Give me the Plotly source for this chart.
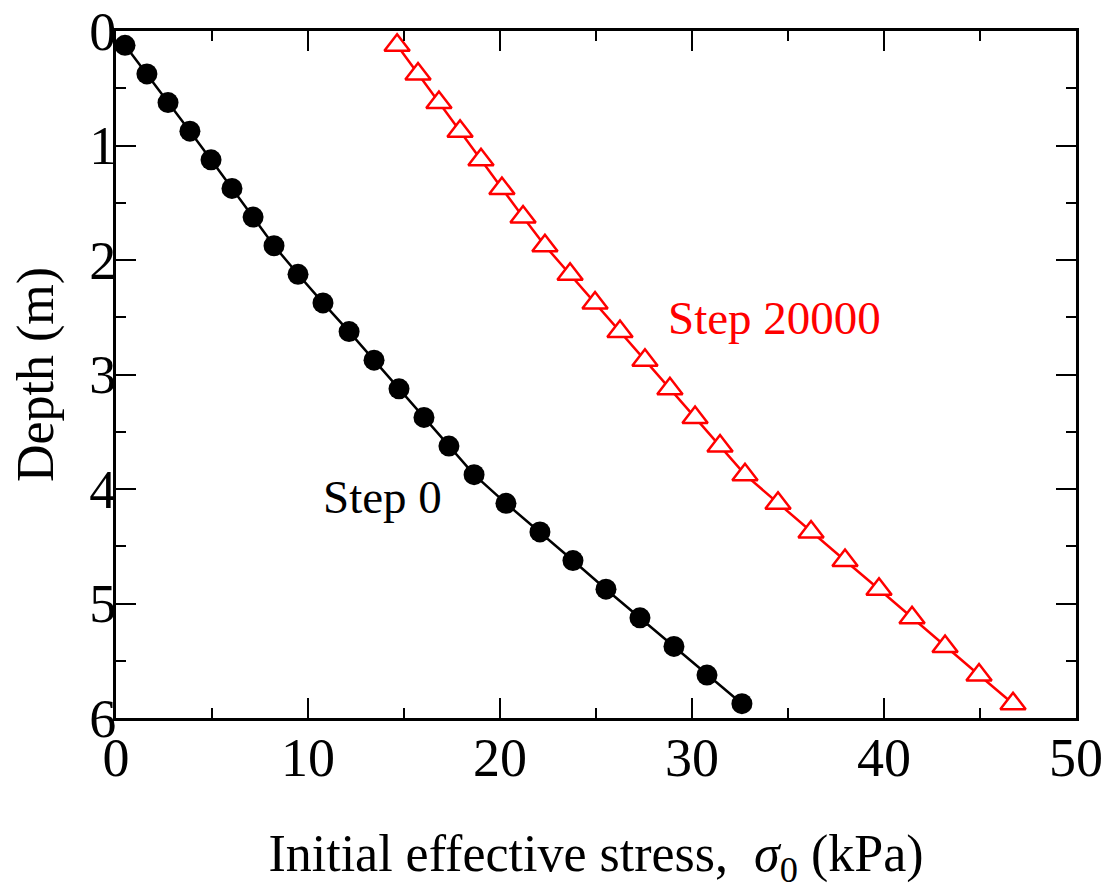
import plotly.graph_objects as go

depth = [0.125, 0.375, 0.625, 0.875, 1.125, 1.375, 1.625, 1.875, 2.125, 2.375, 2.625, 2.875,
         3.125, 3.375, 3.625, 3.875, 4.125, 4.375, 4.625, 4.875, 5.125, 5.375, 5.625, 5.875]
stress_step0 = [0.47, 1.61, 2.71, 3.85, 4.95, 6.04, 7.14, 8.23, 9.48, 10.78, 12.14, 13.44,
                14.74, 16.04, 17.34, 18.65, 20.31, 22.08, 23.80, 25.52, 27.29, 29.06, 30.78, 32.60]
stress_step20000 = [14.64, 15.73, 16.82, 17.92, 19.01, 20.10, 21.20, 22.34, 23.65, 24.95, 26.25, 27.55,
                    28.85, 30.16, 31.46, 32.76, 34.48, 36.20, 37.97, 39.74, 41.46, 43.18, 44.95, 46.72]

FONT = "Liberation Serif"

fig = go.Figure()
fig.add_trace(go.Scatter(
    x=stress_step0, y=depth, mode="lines+markers", name="Step 0",
    line=dict(color="black", width=2.5),
    marker=dict(symbol="circle", size=21, color="black"),
))
fig.add_trace(go.Scatter(
    x=stress_step20000, y=depth, mode="lines+markers", name="Step 20000",
    line=dict(color="red", width=2.5),
    marker=dict(symbol="triangle-up", size=22, color="white", line=dict(color="red", width=2.5)),
))

fig.add_annotation(x=34.3, y=2.51, text="Step 20000", showarrow=False,
                   font=dict(family=FONT, size=47, color="red"))
fig.add_annotation(x=13.9, y=4.07, text="Step 0", showarrow=False,
                   font=dict(family=FONT, size=47, color="black"))

axis_common = dict(
    showgrid=False, zeroline=False, showline=True, linecolor="black", linewidth=3,
    mirror="ticks", ticks="inside", ticklen=20, tickwidth=2, tickcolor="black",
    tickfont=dict(family=FONT, size=54, color="black"),
)

fig.update_xaxes(
    range=[0, 50], tickvals=[0, 10, 20, 30, 40, 50],
    minor=dict(ticks="inside", ticklen=10, tickwidth=2, tickcolor="black", dtick=5, tick0=0, showgrid=False),
    title=dict(text="Initial effective stress,  <i>σ</i><sub>0</sub> (kPa)",
               font=dict(family=FONT, size=52, color="black"), standoff=52),
    ticklabelstandoff=-10,
    **axis_common,
)
fig.update_yaxes(
    range=[6, 0], tickvals=[0, 1, 2, 3, 4, 5, 6],
    minor=dict(ticks="inside", ticklen=10, tickwidth=2, tickcolor="black", dtick=0.5, tick0=0, showgrid=False),
    title=dict(text="Depth (m)", font=dict(family=FONT, size=52, color="black"), standoff=20),
    ticklabelstandoff=-14,
    **axis_common,
)

fig.update_layout(
    width=1111, height=890,
    margin=dict(l=116, r=35, t=31, b=172, autoexpand=False),
    plot_bgcolor="white", paper_bgcolor="white",
    showlegend=False,
    font=dict(family=FONT, color="black"),
)

fig.write_html("out.html")
